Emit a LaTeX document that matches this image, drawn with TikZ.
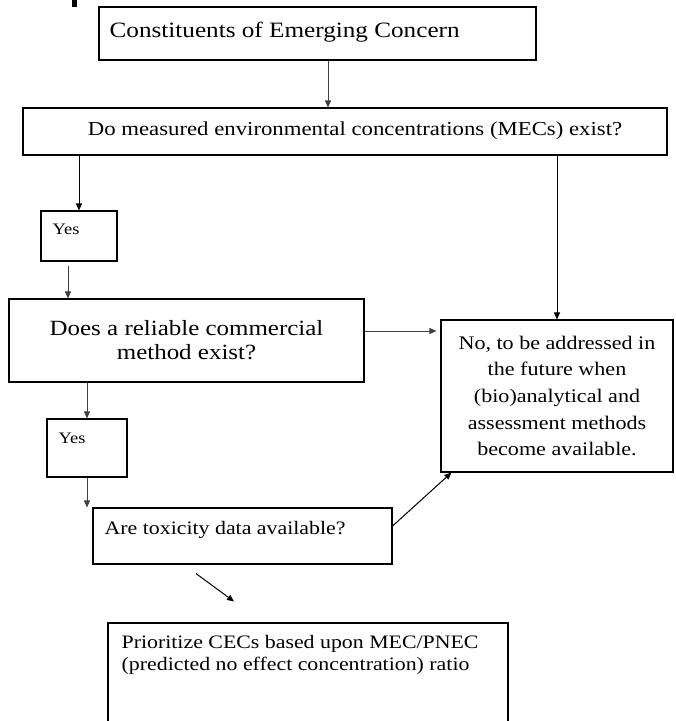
\documentclass[tikz,border=0pt]{standalone}
\usepackage{fontspec}
\setmainfont{Liberation Serif}[FakeStretch=1.15]
\usetikzlibrary{arrows.meta}

\def\cecfont{\fontsize{21.9}{26}\selectfont}
\def\mecfont{\fontsize{19.8}{24}\selectfont}
\def\methodfont{\fontsize{21.7}{24}\selectfont}
\def\nofont{\fontsize{19.2}{26.7}\selectfont}
\def\boxfont{\fontsize{19}{22}\selectfont}
\def\yesfont{\fontsize{16}{18}\selectfont}

\tikzset{
  box/.style={draw, rectangle, line width=1.1pt, inner sep=0pt},
  txt/.style={inner sep=0pt},
  arr/.style={-{Triangle[length=7pt,width=6pt]}, line width=1pt},
  thinarr/.style={arr, line width=0.8pt, black!75},
}

\begin{document}
\begin{tikzpicture}[x=1pt, y=-1pt]

    \path[use as bounding box, clip] (0,0) rectangle (676,721);

    % scan mark, top left
    \fill (72,0) rectangle (77,7);

    % Constituents of Emerging Concern (CEC)
    \node[box, minimum width=437, minimum height=53] (cec) at (317.5,33.5) {};
    \node[txt, anchor=base west, font=\cecfont] at ([shift={(11,31)}]cec.north west) {Constituents of Emerging Concern};

    % MECs exist?
    \node[box, minimum width=644, minimum height=47] (mec) at (345,131.5) {};
    \node[txt, anchor=base, font=\mecfont] at ([shift={(10,3.5)}]mec.center) {Do measured environmental concentrations (MECs) exist?};

    % Yes (MECs)
    \node[box, minimum width=76, minimum height=50] (yes1) at (79,236) {};
    \node[txt, anchor=base west, font=\yesfont] at ([shift={(12,24)}]yes1.north west) {Yes};

    % commercial method exist?
    \node[box, minimum width=355, minimum height=83, align=center, font=\methodfont] (method) at (186.5,340.5) {Does a reliable commercial\\method exist?};

    % Yes (method)
    \node[box, minimum width=80, minimum height=58] (yes2) at (87,448) {};
    \node[txt, anchor=base west, font=\yesfont] at ([shift={(12,25)}]yes2.north west) {Yes};

    % No, future
    \node[box, minimum width=232, minimum height=152, align=center, font=\nofont] (future) at (557,396) {No, to be addressed in\\the future when\\(bio)analytical and\\assessment methods\\become available.};

    % toxicity data
    \node[box, minimum width=299, minimum height=56] (tox) at (242.5,536) {};
    \node[txt, anchor=base west, font=\boxfont] at ([shift={(12,27)}]tox.north west) {Are toxicity data available?};

    % Prioritize CECs
    \node[box, minimum width=400, minimum height=150] (prio) at (308,698) {};
    \node[txt, anchor=north west, align=left, font=\boxfont] at ([shift={(14,13)}]prio.north west) {Prioritize CECs based upon MEC/PNEC\\(predicted no effect concentration) ratio};

    % connectors
    \draw[thinarr] ([xshift=10.5]cec.south) -- ([xshift=10.5]cec.south |- mec.north);
    \draw[arr] (mec.south -| yes1.north) -- (yes1.north);
    \draw[arr] (mec.south -| future.north) -- (future.north);
    \draw[thinarr] ([shift={(-11,4)}]yes1.south) -- ([xshift=-11]yes1.south |- method.north);
    \draw[thinarr, shorten >=4pt] ([yshift=9.5]method.east) -- ([yshift=9.5]method.east -| future.west);
    \draw[thinarr] (method.south -| yes2.north) -- (yes2.north);
    \draw[thinarr] (yes2.south) -- (yes2.south |- tox.north);
    \draw[arr] ([yshift=10]tox.east) -- ([xshift=11]future.south west);
    \draw[arr] ([shift={(-46.5,9)}]tox.south) -- ([shift={(-74,-21)}]prio.north);

\end{tikzpicture}
\end{document}
